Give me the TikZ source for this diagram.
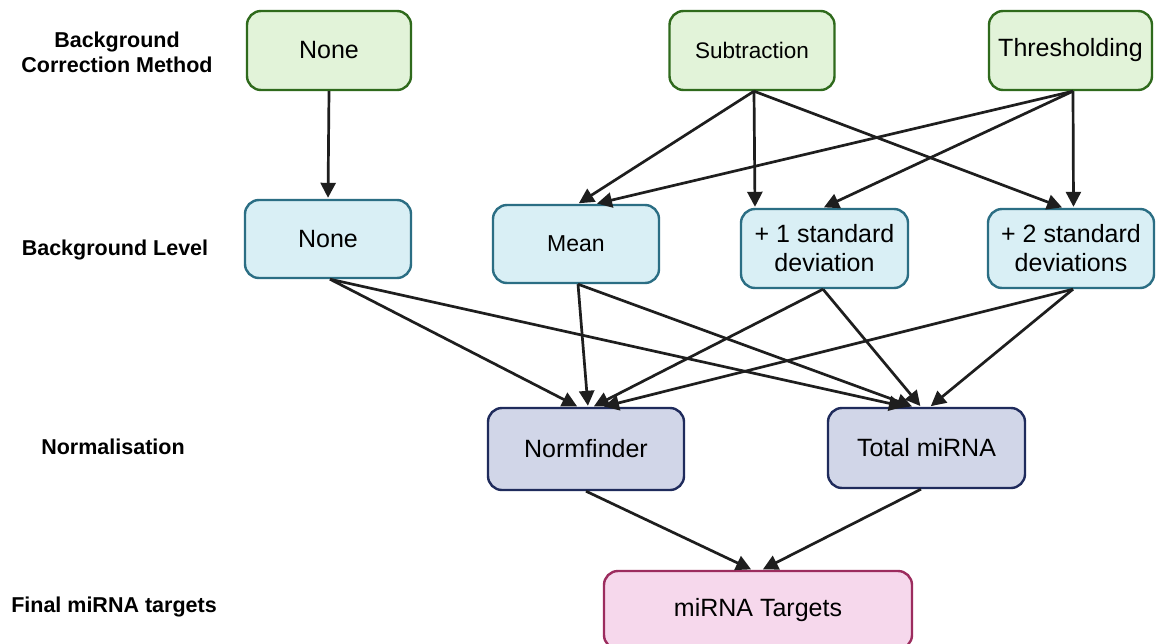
\documentclass[tikz,border=0pt]{standalone}
\usepackage{fontspec}
\setmainfont{Liberation Sans}
\usetikzlibrary{arrows.meta}
\definecolor{gfill}{HTML}{E2F3D9}
\definecolor{gdraw}{HTML}{2F6A1C}
\definecolor{bfill}{HTML}{D9EFF5}
\definecolor{bdraw}{HTML}{2B6E84}
\definecolor{nfill}{HTML}{D1D6E8}
\definecolor{ndraw}{HTML}{1F2B5C}
\definecolor{pfill}{HTML}{F6D8EC}
\definecolor{pdraw}{HTML}{9C2C5E}
\definecolor{arr}{HTML}{1E1E1E}
\tikzset{
  boxbase/.style={rounded corners=14pt, line width=2.4pt, align=center, inner sep=0pt, font=\fontsize{25}{29}\selectfont},
  gbox/.style={boxbase, fill=gfill, draw=gdraw},
  bbox/.style={boxbase, fill=bfill, draw=bdraw},
  nbox/.style={boxbase, fill=nfill, draw=ndraw},
  pbox/.style={boxbase, fill=pfill, draw=pdraw},
  lab/.style={align=center, font=\bfseries\fontsize{21.5}{25}\selectfont},
  con/.style={line width=2.7pt, draw=arr, shorten >=1pt, -{Triangle[length=15pt,width=15pt]}}
}
\begin{document}
\begin{tikzpicture}[x=1pt,y=-1pt]
\useasboundingbox[fill=white] (0,0) rectangle (1157,643);
% labels
\node[lab] (l1) at (117,52) {Background\\Correction Method};
\node[lab] (l2) at (115,250) {Background Level};
\node[lab] (l3) at (113,447) {Normalisation};
\node[lab] (l4) at (114,607) {Final miRNA targets};
% row 1
\node[gbox, minimum width=164pt, minimum height=79pt] (tn) at (329,50.5) {None};
\node[gbox, minimum width=165pt, minimum height=79pt, font=\fontsize{22.5}{27}\selectfont] (sub) at (752,50.5) {Subtraction};
\node[gbox, minimum width=163pt, minimum height=79pt] (thr) at (1070.5,50.5) {Thresholding};
% row 2
\node[bbox, minimum width=166pt, minimum height=78pt] (bn) at (328,239) {None};
\node[bbox, minimum width=166pt, minimum height=78pt, font=\fontsize{23}{27}\selectfont] (mean) at (576,244) {Mean};
\node[bbox, minimum width=167pt, minimum height=79pt] (sd1) at (824.5,248.5) {+ 1 standard\\deviation};
\node[bbox, minimum width=166pt, minimum height=79pt] (sd2) at (1071,248.5) {+ 2 standard\\deviations};
% row 3
\node[nbox, minimum width=196pt, minimum height=82pt] (norm) at (586,449) {Normfinder};
\node[nbox, minimum width=197pt, minimum height=80pt] (tot) at (926.5,448) {Total miRNA};
% row 4
\node[pbox, minimum width=308pt, minimum height=78pt] (tgt) at (758,610) {miRNA Targets};
% connectors
\draw[con] (tn.south) -- (bn.north);
\draw[con] ([xshift=2pt]sub.south) -- ([xshift=2pt]mean.north);
\draw[con] ([xshift=2pt]sub.south) -- ([xshift=-69.5pt]sd1.north);
\draw[con] ([xshift=2pt]sub.south) -- ([xshift=-8pt]sd2.north);
\draw[con] ([xshift=2.5pt]thr.south) -- ([xshift=20pt]mean.north);
\draw[con] ([xshift=2.5pt]thr.south) -- ([xshift=-1.5pt]sd1.north);
\draw[con] ([xshift=2.5pt]thr.south) -- ([xshift=2.5pt]sd2.north);
\draw[con] ([xshift=2pt]bn.south) -- ([xshift=-8pt]norm.north);
\draw[con] ([xshift=2pt]bn.south) -- ([xshift=-21.5pt]tot.north);
\draw[con] ([xshift=2pt]mean.south) -- ([xshift=2pt]norm.north);
\draw[con] ([xshift=2pt]mean.south) -- ([xshift=-13.5pt]tot.north);
\draw[con] ([xshift=-1.5pt]sd1.south) -- ([xshift=7pt]norm.north);
\draw[con] ([xshift=-1.5pt]sd1.south) -- ([xshift=-5.5pt]tot.north);
\draw[con] ([xshift=2pt]sd2.south) -- ([xshift=17pt]norm.north);
\draw[con] ([xshift=2pt]sd2.south) -- ([xshift=3.5pt]tot.north);
\draw[con] (norm.south) -- ([xshift=-6pt]tgt.north);
\draw[con] ([xshift=-5.5pt]tot.south) -- ([xshift=4pt]tgt.north);
\end{tikzpicture}
\end{document}
